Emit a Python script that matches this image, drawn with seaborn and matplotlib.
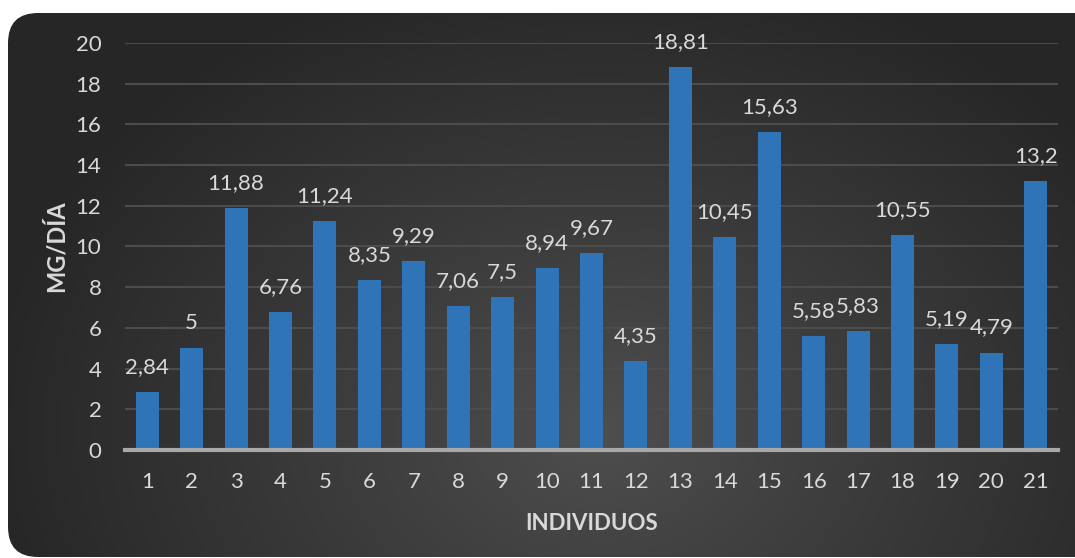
import numpy as np
import pandas as pd
import matplotlib
matplotlib.use("Agg")
import matplotlib.pyplot as plt
from matplotlib.patches import FancyBboxPatch
import seaborn as sns

individuos = [str(i) for i in range(1, 22)]
mg_dia = [2.84, 5, 11.88, 6.76, 11.24, 8.35, 9.29, 7.06, 7.5, 8.94, 9.67, 4.35,
          18.81, 10.45, 15.63, 5.58, 5.83, 10.55, 5.19, 4.79, 13.2]
yticks = [0, 2, 4, 6, 8, 10, 12, 14, 16, 18, 20]

sns.set_theme(style="white")
plt.rcParams['font.family'] = ['Lato', 'DejaVu Sans']

W, H = 1075, 558
fig = plt.figure(figsize=(W / 100, H / 100), dpi=100)
fig.patch.set_facecolor("white")

# background with radial gradient, rounded corners
bg = fig.add_axes([0, 0, 1, 1], zorder=-10)
bg.set_xlim(0, W)
bg.set_ylim(H, 0)
bg.axis("off")
yy, xx = np.mgrid[0:H, 0:W]
d = np.sqrt(((xx - 600) / 620.0) ** 2 + ((yy - 430) / 480.0) ** 2)
d = np.clip(d, 0, 1)
lo, hi = 0.15, 0.31
val = hi - (hi - lo) * d ** 0.9
img = np.dstack([val, val, val])
im = bg.imshow(img, extent=[0, W, H, 0], aspect="auto", interpolation="bilinear")
patch = FancyBboxPatch((8 + 30, 13 + 30), W + 40 - 38 - 30, H - 13 - 1 - 60,
                       boxstyle="round,pad=30", transform=bg.transData,
                       facecolor="none", edgecolor="none")
bg.add_patch(patch)
im.set_clip_path(patch)

ax = fig.add_axes([125 / W, 1 - 450 / H, (1058 - 125) / W, (450 - 43) / H])
ax.patch.set_alpha(0)

df = pd.DataFrame({"Individuos": individuos, "MG/DÍA": mg_dia})
sns.barplot(data=df, x="Individuos", y="MG/DÍA", color="#2E74B7", width=0.52,
            saturation=1, linewidth=0, ax=ax, zorder=3)

ax.set_xlim(-0.5, len(individuos) - 0.5)
ax.set_ylim(0, 20)
ax.set_yticks(yticks)
ax.yaxis.grid(True, color="#4c4c4c", linewidth=1.5, zorder=0)
ax.set_axisbelow(True)
for s in ["top", "right", "left"]:
    ax.spines[s].set_visible(False)
ax.spines["bottom"].set_color("#a8a8a8")
ax.spines["bottom"].set_linewidth(3)
ax.spines["bottom"].set_zorder(4)

tc = "#d9d9d9"
ax.tick_params(axis="both", colors=tc, labelsize=16, length=0)
ax.tick_params(axis="y", pad=17)
ax.tick_params(axis="x", pad=16)
ax.set_xlabel("INDIVIDUOS", color=tc, fontsize=16, fontweight="bold", labelpad=15)
ax.set_ylabel("MG/DÍA", color=tc, fontsize=17, fontweight="bold", labelpad=6)

for i, v in enumerate(mg_dia):
    lab = f"{v:g}".replace(".", ",")
    ax.annotate(lab, (i, v), xytext=(0, 11), textcoords="offset points",
                ha="center", va="bottom", color=tc, fontsize=16, clip_on=False)

fig.savefig("out.png", dpi=100, facecolor="white")
